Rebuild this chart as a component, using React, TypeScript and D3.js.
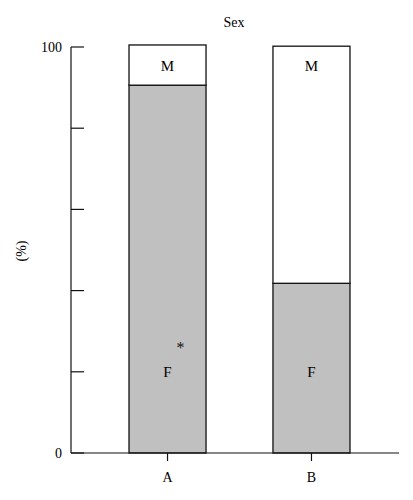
import React from 'react';
import * as d3 from 'd3';

// Stacked percentages per group
const groups = ['A', 'B'];
const femaleValues = [90.6, 41.8];
const maleValues = [9.9, 58.4];
const yTicks = [0, 20, 40, 60, 80, 100];
const yTickLabels = ['0', '', '', '', '', '100'];

const W = 413;
const H = 500;
const margin = {top: 47, right: 14, bottom: 47, left: 71};
const font = '"Liberation Serif", "DejaVu Serif", serif';

export default function App() {
  const innerW = W - margin.left - margin.right;
  const innerH = H - margin.top - margin.bottom;

  const x = d3.scaleBand<string>().domain(groups).range([0, 337]).paddingInner(0.465).paddingOuter(0.403);
  const y = d3.scaleLinear().domain([0, 100]).range([innerH, 0]);

  const series = groups.map((g, i) => ({
    g,
    f: femaleValues[i],
    m: maleValues[i],
  }));

  return (
    <svg width={W} height={H} style={{position: 'absolute', left: 0, top: 0, background: '#fff'}} fontFamily={font}>
      <text x={234} y={27} textAnchor="middle" fontSize={14}>Sex</text>
      <text transform={`translate(26,251) rotate(-90)`} textAnchor="middle" fontSize={14}>(%)</text>
      <g transform={`translate(${margin.left},${margin.top})`}>
        {series.map((d, i) => {
          const bx = x(d.g) || 0;
          const bw = x.bandwidth();
          return (
            <g key={d.g}>
              <rect x={bx} y={y(d.f)} width={bw} height={innerH - y(d.f)} fill="#c0c0c0" stroke="#111" strokeWidth={1.3} />
              <rect x={bx} y={y(d.f + d.m)} width={bw} height={y(d.f) - y(d.f + d.m)} fill="#fff" stroke="#111" strokeWidth={1.3} />
              <text x={bx + bw / 2} y={y(95.4) + 5} textAnchor="middle" fontSize={15}>M</text>
              <text x={bx + bw / 2} y={y(20) + 5} textAnchor="middle" fontSize={15}>F</text>
              {i === 0 && (
                <text x={bx + bw / 2 + 13} y={y(27) + 10} textAnchor="middle" fontSize={16} fill="#111">*</text>
              )}
            </g>
          );
        })}
        {/* y axis */}
        <line x1={0} x2={0} y1={y(100)} y2={y(0)} stroke="#111" strokeWidth={1.2} />
        {yTicks.map((t, i) => (
          <g key={t} transform={`translate(0,${y(t)})`}>
            <line x1={0} x2={13} stroke="#111" strokeWidth={1.2} />
            <text x={-9} dy="0.35em" textAnchor="end" fontSize={14}>{yTickLabels[i]}</text>
          </g>
        ))}
        {/* x axis */}
        <line x1={0} x2={innerW} y1={innerH} y2={innerH} stroke="#111" strokeWidth={1.2} />
        {groups.map((g) => {
          const cx = (x(g) || 0) + x.bandwidth() / 2;
          return (
            <g key={g} transform={`translate(${cx},${innerH})`}>
              <line y1={0} y2={8} stroke="#111" strokeWidth={1.2} />
              <text y={29} textAnchor="middle" fontSize={14}>{g}</text>
            </g>
          );
        })}
      </g>
    </svg>
  );
}
